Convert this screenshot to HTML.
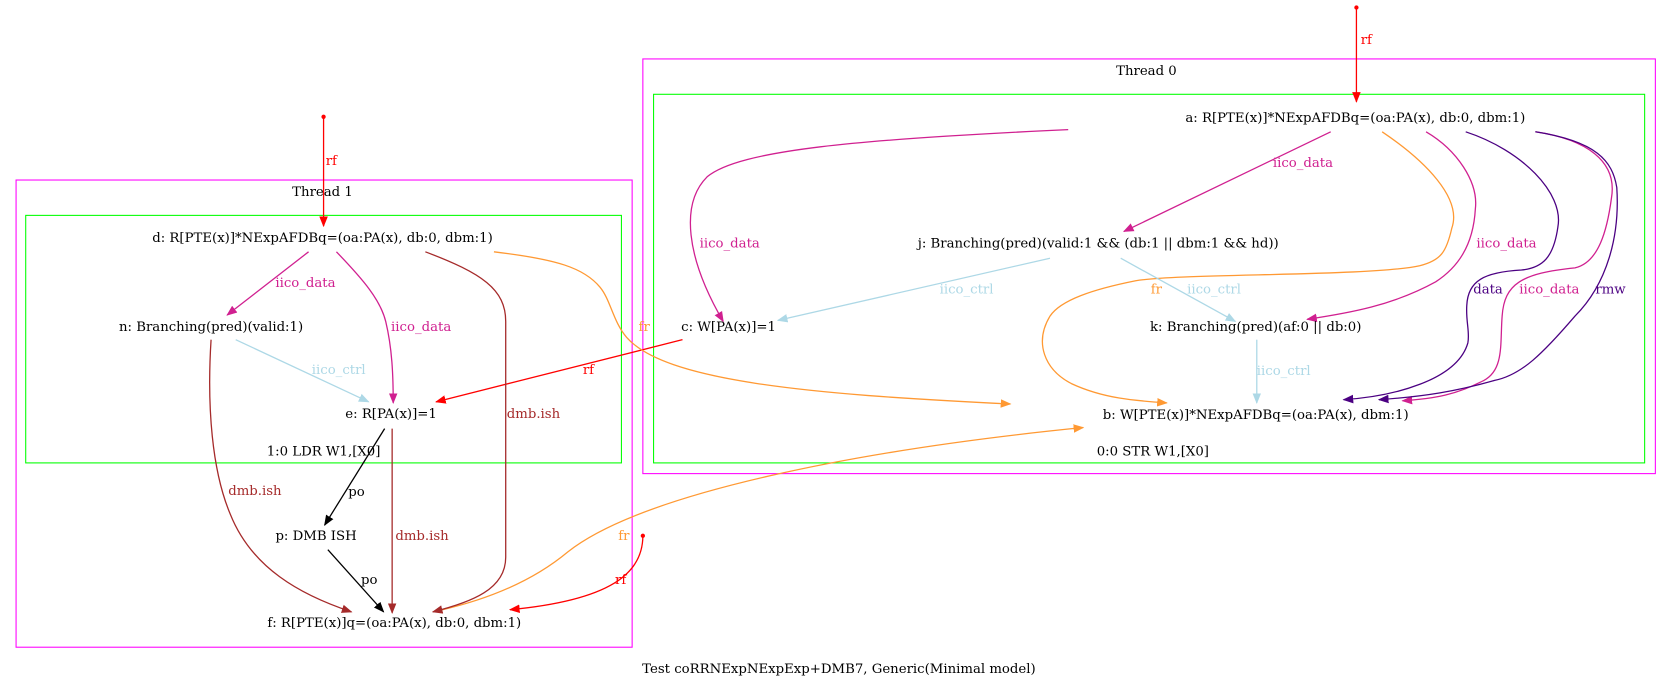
<!DOCTYPE html>
<html><head><meta charset="utf-8"><style>
html,body{margin:0;padding:0;background:#fff;}
svg text{font-family:"DejaVu Serif","Liberation Serif",serif;font-size:12.4px;}
</style></head><body>
<svg width="1680" height="689" viewBox="0 0 1568 643" preserveAspectRatio="none" xmlns="http://www.w3.org/2000/svg">
<defs>
<marker id="m-red" markerWidth="10" markerHeight="10" refX="9" refY="5" orient="auto" markerUnits="userSpaceOnUse"><path d="M0,1 L10,5 L0,9z" fill="red"/></marker>
<marker id="m-mag" markerWidth="10" markerHeight="10" refX="9" refY="5" orient="auto" markerUnits="userSpaceOnUse"><path d="M0,1 L10,5 L0,9z" fill="#d02090"/></marker>
<marker id="m-or" markerWidth="10" markerHeight="10" refX="9" refY="5" orient="auto" markerUnits="userSpaceOnUse"><path d="M0,1 L10,5 L0,9z" fill="#ff9933"/></marker>
<marker id="m-ind" markerWidth="10" markerHeight="10" refX="9" refY="5" orient="auto" markerUnits="userSpaceOnUse"><path d="M0,1 L10,5 L0,9z" fill="#4b0082"/></marker>
<marker id="m-lb" markerWidth="10" markerHeight="10" refX="9" refY="5" orient="auto" markerUnits="userSpaceOnUse"><path d="M0,1 L10,5 L0,9z" fill="#add8e6"/></marker>
<marker id="m-br" markerWidth="10" markerHeight="10" refX="9" refY="5" orient="auto" markerUnits="userSpaceOnUse"><path d="M0,1 L10,5 L0,9z" fill="#a52a2a"/></marker>
<marker id="m-bk" markerWidth="10" markerHeight="10" refX="9" refY="5" orient="auto" markerUnits="userSpaceOnUse"><path d="M0,1 L10,5 L0,9z" fill="#000"/></marker>
</defs>
<rect x="600" y="55" width="945" height="387" fill="none" stroke="#ff00ff" stroke-width="1"/>
<rect x="610" y="88" width="925" height="344" fill="none" stroke="#00ff00" stroke-width="1"/>
<rect x="15" y="168" width="575" height="436" fill="none" stroke="#ff00ff" stroke-width="1"/>
<rect x="24" y="201" width="556" height="231" fill="none" stroke="#00ff00" stroke-width="1"/>
<text x="1070" y="70" text-anchor="middle">Thread 0</text>
<text x="301" y="183" text-anchor="middle">Thread 1</text>
<text x="1076" y="425" text-anchor="middle">0:0 STR W1,[X0]</text>
<text x="302" y="425" text-anchor="middle">1:0 LDR W1,[X0]</text>

<g fill="none" stroke-width="1.2">
<path d="M1266,7 L1266,95" stroke="red" marker-end="url(#m-red)"/>
<path d="M302,109 L302,211" stroke="red" marker-end="url(#m-red)"/>
<!-- Thread 0 -->
<path d="M1242,123 L1049,216" stroke="#d02090" marker-end="url(#m-mag)"/>
<path d="M997,121 C800,130 690,140 660,165 C635,190 640,240 675,300" stroke="#d02090" marker-end="url(#m-mag)"/>
<path d="M1290,123 C1330,150 1365,185 1355,213 C1350,235 1345,243 1325,248 C1280,258 1100,255 1060,262 C1020,270 990,280 980,295 C965,320 975,345 1000,358 C1030,372 1060,374 1089,376" stroke="#ff9933" marker-end="url(#m-or)"/>
<path d="M1331,123 C1360,140 1380,170 1377,195 C1375,230 1360,250 1340,263 C1300,285 1260,292 1220,298" stroke="#d02090" marker-end="url(#m-mag)"/>
<path d="M1368,123 C1420,140 1460,180 1454,212 C1450,240 1440,250 1420,252 C1385,254 1370,262 1369,285 C1368,300 1372,310 1370,320 C1360,355 1300,370 1254,373" stroke="#4b0082" marker-end="url(#m-ind)"/>
<path d="M1433,123 C1480,130 1510,150 1504,185 C1500,215 1492,245 1470,250 C1420,255 1404,265 1402,295 C1400,320 1404,345 1385,355 C1360,368 1340,372 1309,374" stroke="#d02090" marker-end="url(#m-mag)"/>
<path d="M1433,123 C1490,132 1505,150 1509,175 C1512,220 1500,265 1470,295 C1440,330 1420,350 1395,355 C1360,365 1330,370 1287,373" stroke="#4b0082" marker-end="url(#m-ind)"/>
<path d="M980,241 L726,299" stroke="#add8e6" marker-end="url(#m-lb)"/>
<path d="M1046,241 L1153,300" stroke="#add8e6" marker-end="url(#m-lb)"/>
<path d="M1173,317 L1173,376" stroke="#add8e6" marker-end="url(#m-lb)"/>
<!-- cross -->
<path d="M637,317 L407,375" stroke="red" marker-end="url(#m-red)"/>
<path d="M461,235 C520,242 545,250 560,268 C570,280 572,300 585,315 C620,355 750,368 943,377" stroke="#ff9933" marker-end="url(#m-or)"/>
<path d="M413,569 C460,558 500,540 530,515 C600,460 800,420 1011,399" stroke="#ff9933" marker-end="url(#m-or)"/>
<path d="M600,500 C600,535 570,560 476,569" stroke="red" marker-end="url(#m-red)"/>
<!-- Thread 1 -->
<path d="M288,235 L212,294" stroke="#d02090" marker-end="url(#m-mag)"/>
<path d="M314,235 C340,262 355,280 360,300 C366,325 367,350 367,376" stroke="#d02090" marker-end="url(#m-mag)"/>
<path d="M397,235 C450,255 472,270 472,300 L472,520 C472,550 440,562 404,571" stroke="#a52a2a" marker-end="url(#m-br)"/>
<path d="M220,317 L344,375" stroke="#add8e6" marker-end="url(#m-lb)"/>
<path d="M197,317 C193,380 198,440 215,480 C235,530 280,555 328,571" stroke="#a52a2a" marker-end="url(#m-br)"/>
<path d="M359,400 L303,490" stroke="#000" marker-end="url(#m-bk)"/>
<path d="M366,400 L366,572" stroke="#a52a2a" marker-end="url(#m-br)"/>
<path d="M306,513 L358,571" stroke="#000" marker-end="url(#m-bk)"/>
</g>
<circle cx="1266" cy="7" r="2" fill="red"/>
<circle cx="302" cy="109" r="2" fill="red"/>
<circle cx="600" cy="500" r="2" fill="red"/>

<text x="1265" y="114" text-anchor="middle">a: R[PTE(x)]*NExpAFDBq=(oa:PA(x), db:0, dbm:1)</text>
<text x="1025" y="231" text-anchor="middle">j: Branching(pred)(valid:1 &amp;&amp; (db:1 || dbm:1 &amp;&amp; hd))</text>
<text x="680" y="309" text-anchor="middle">c: W[PA(x)]=1</text>
<text x="1172" y="309" text-anchor="middle">k: Branching(pred)(af:0 || db:0)</text>
<text x="1172" y="391" text-anchor="middle">b: W[PTE(x)]*NExpAFDBq=(oa:PA(x), dbm:1)</text>
<text x="301" y="226" text-anchor="middle">d: R[PTE(x)]*NExpAFDBq=(oa:PA(x), db:0, dbm:1)</text>
<text x="197" y="309" text-anchor="middle">n: Branching(pred)(valid:1)</text>
<text x="365" y="390" text-anchor="middle">e: R[PA(x)]=1</text>
<text x="295" y="504" text-anchor="middle">p: DMB ISH</text>
<text x="368" y="585" text-anchor="middle">f: R[PTE(x)]q=(oa:PA(x), db:0, dbm:1)</text>
<text x="783" y="628" text-anchor="middle">Test coRRNExpNExpExp+DMB7, Generic(Minimal model)</text>

<g>
<text x="1270" y="41" fill="red">rf</text>
<text x="304" y="154" fill="red">rf</text>
<text x="1188" y="156" fill="#d02090">iico_data</text>
<text x="653" y="231" fill="#d02090">iico_data</text>
<text x="1378" y="231" fill="#d02090">iico_data</text>
<text x="1375" y="274" fill="#4b0082">data</text>
<text x="1418" y="274" fill="#d02090">iico_data</text>
<text x="1489" y="274" fill="#4b0082">rmw</text>
<text x="877" y="274" fill="#add8e6">iico_ctrl</text>
<text x="1108" y="274" fill="#add8e6">iico_ctrl</text>
<text x="1074" y="274" fill="#ff9933">fr</text>
<text x="1173" y="350" fill="#add8e6">iico_ctrl</text>
<text x="596" y="309" fill="#ff9933">fr</text>
<text x="544" y="349" fill="red">rf</text>
<text x="257" y="268" fill="#d02090">iico_data</text>
<text x="365" y="309" fill="#d02090">iico_data</text>
<text x="291" y="349" fill="#add8e6">iico_ctrl</text>
<text x="473" y="390" fill="#a52a2a">dmb.ish</text>
<text x="213" y="462" fill="#a52a2a">dmb.ish</text>
<text x="325" y="463" fill="#000">po</text>
<text x="369" y="504" fill="#a52a2a">dmb.ish</text>
<text x="337" y="545" fill="#000">po</text>
<text x="577" y="504" fill="#ff9933">fr</text>
<text x="574" y="545" fill="red">rf</text>
</g>
</svg>
</body></html>
